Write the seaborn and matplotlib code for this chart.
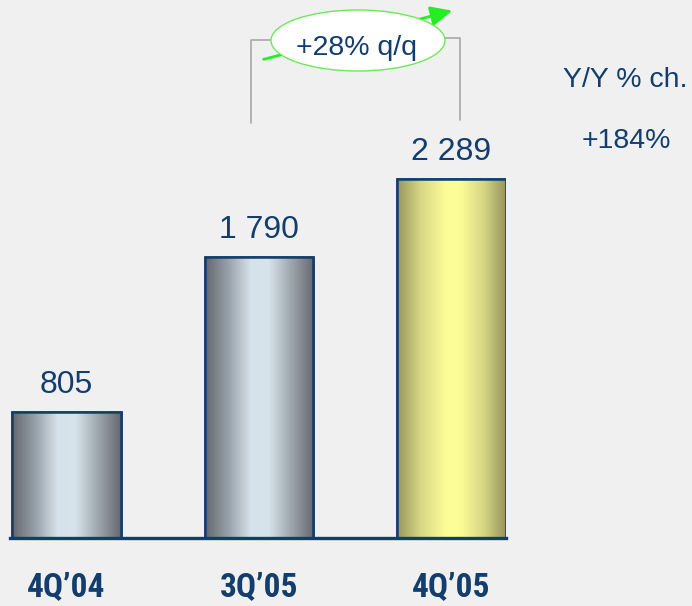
import numpy as np
import pandas as pd
import matplotlib
matplotlib.use("Agg")
import matplotlib.pyplot as plt
from matplotlib import font_manager
from matplotlib.colors import LinearSegmentedColormap
from matplotlib.patches import Ellipse, FancyArrowPatch
import seaborn as sns

# Quarterly values
quarters = ["4Q\u201904", "3Q\u201905", "4Q\u201905"]
values = [805, 1790, 2289]
value_labels = ["805", "1 790", "2 289"]
qoq_label = "+28% q/q"
yoy_title = "Y/Y % ch."
yoy_label = "+184%"

NAVY = "#123d6c"
BG = "#f0f0f0"

sns.set_theme(style="white")
plt.rcParams["font.family"] = ["Liberation Sans", "DejaVu Sans"]

# pick a narrow bold face for the quarter labels if one is installed
installed = {f.name for f in font_manager.fontManager.ttflist}
tick_font, tick_size = "Liberation Sans", 22
for fam, size in [("Liberation Sans Narrow", 25), ("Arial Narrow", 25),
                  ("Roboto Condensed", 24), ("DejaVu Sans Condensed", 22)]:
    if fam in installed:
        tick_font, tick_size = fam, size
        break

W, H = 692, 606
fig = plt.figure(figsize=(W / 100, H / 100), dpi=100, facecolor=BG)

# main axes in pixel placement: baseline at y=538, spans x 10..506
left_px, right_px, base_px = 10, 506, 538
ax = fig.add_axes([left_px / W, (H - base_px) / H, (right_px - left_px) / W, base_px / H])
ax.set_facecolor("none")

df = pd.DataFrame({"quarter": quarters, "value": values})
sns.barplot(data=df, x="quarter", y="value", width=0.566, color="white",
            edgecolor=NAVY, linewidth=1.8, ax=ax, zorder=3)

px_per_unit = 0.157
ylim = (0, base_px / px_per_unit)
xlim = (-0.2935, 2.283)

gray_cmap = LinearSegmentedColormap.from_list(
    "steel", [(0, "#64686d"), (0.2, "#949da5"), (0.42, "#d6e2eb"),
              (0.58, "#d8e4ec"), (0.8, "#9ca4ab"), (1, "#65696e")])
gold_cmap = LinearSegmentedColormap.from_list(
    "gold", [(0, "#98965e"), (0.22, "#d8d884"), (0.45, "#fdfd98"),
             (0.58, "#fdfd98"), (0.8, "#d6d682"), (1, "#97955d")])
cmaps = [gray_cmap, gray_cmap, gold_cmap]

grad = np.linspace(0, 1, 256).reshape(1, -1)
for patch, cmap in zip(list(ax.patches), cmaps):
    x0, y0 = patch.get_x(), patch.get_y()
    w, h = patch.get_width(), patch.get_height()
    im = ax.imshow(grad, cmap=cmap, extent=(x0, x0 + w, y0, y0 + h),
                   aspect="auto", zorder=3.5, interpolation="bilinear")
    im.set_clip_path(patch)
    ax.add_patch(plt.Rectangle((x0, y0), w, h, fill=False, edgecolor=NAVY,
                               linewidth=1.8, zorder=4))

ax.set_xlim(*xlim)
ax.set_ylim(*ylim)

# value labels above bars
for i, (v, lab) in enumerate(zip(values, value_labels)):
    ax.annotate(lab, xy=(i, v), xytext=(0, 13.7), textcoords="offset points",
                ha="center", va="baseline", fontsize=23, color=NAVY, zorder=5)

for s in ["top", "right", "left"]:
    ax.spines[s].set_visible(False)
ax.spines["bottom"].set_color(NAVY)
ax.spines["bottom"].set_linewidth(2.4)
ax.spines["bottom"].set_zorder(6)
ax.set_yticks([])
ax.set_xlabel("")
ax.set_ylabel("")
ax.tick_params(axis="x", length=0, pad=24)
ax.set_xticks(range(len(quarters)))
ax.set_xticklabels(quarters, fontsize=tick_size, fontweight="bold", color=NAVY,
                   family=[tick_font, "DejaVu Sans"])

# overlay in pixel coordinates for the q/q callout and Y/Y column
ov = fig.add_axes([0, 0, 1, 1])
ov.set_xlim(0, W)
ov.set_ylim(H, 0)
ov.axis("off")
ov.patch.set_alpha(0)

bracket = "#a9a9a9"
ov.plot([251, 251, 272], [123, 40, 40], color=bracket, lw=1.2, zorder=1)
ov.plot([445, 460, 460], [38, 38, 120], color=bracket, lw=1.2, zorder=1)

arrow = FancyArrowPatch((261, 60), (455, 10),
                        arrowstyle="-|>,head_length=13,head_width=6",
                        color="#22ee22", lw=2, mutation_scale=1, zorder=2)
ov.add_patch(arrow)
ov.add_patch(Ellipse((358, 40.5), 174, 61, facecolor="white",
                     edgecolor="#6ee85a", lw=1.0, zorder=3))
ov.text(357, 55, qoq_label, ha="center", va="baseline", fontsize=20.5,
        color=NAVY, zorder=4)

ov.text(625, 87, yoy_title, ha="center", va="baseline", fontsize=20.5, color=NAVY)
ov.text(626, 148, yoy_label, ha="center", va="baseline", fontsize=20.5, color=NAVY)

fig.savefig("out.png", dpi=100, facecolor=BG)
